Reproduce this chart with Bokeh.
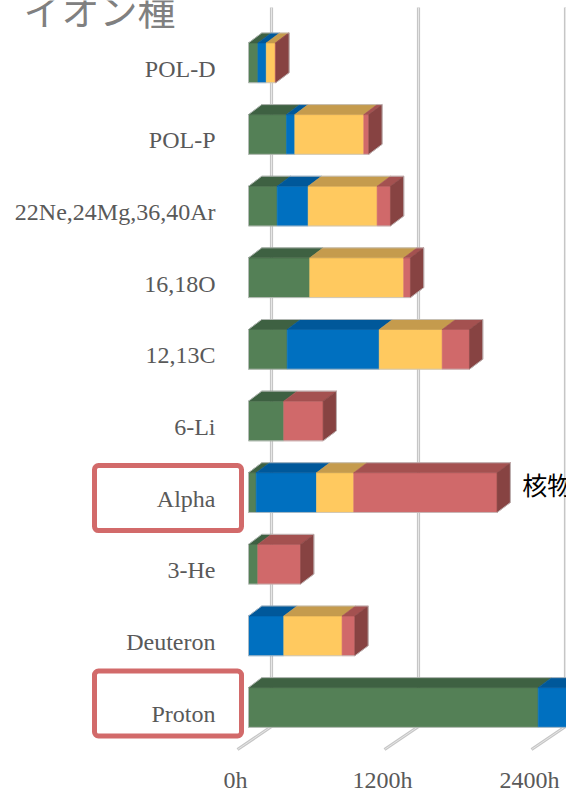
from bokeh.plotting import figure
from bokeh.models import Range1d, ColumnDataSource, BoxAnnotation
from bokeh.core.properties import value
from bokeh.embed import file_html
from bokeh.resources import INLINE

# Ion species, listed bottom to top
categories = ["Proton", "Deuteron", "3-He", "Alpha", "6-Li", "12,13C",
              "16,18O", "22Ne,24Mg,36,40Ar", "POL-P", "POL-D"]

# Beam hours per species, four stacked components
s1 = [2365, 0, 76, 63, 288, 316, 500, 234, 310, 77]      # green
s2 = [300, 288, 0, 492, 0, 751, 0, 253, 68, 68]          # blue
s3 = [0, 476, 0, 304, 0, 514, 767, 563, 563, 73]         # yellow
s4 = [0, 104, 349, 1170, 321, 223, 55, 109, 41, 5]       # red

ticks = [0, 1200, 2400]
tick_labels = ["0h", "1200h", "2400h"]
axis_title = "イオン種"
side_note = "核物理"
highlighted = ["Alpha", "Proton"]

W, H = 566, 791
HPP = 1200 / 147.0      # hours per pixel along x
CPP = 1 / 71.63         # category units per pixel along y
X0, Y0 = 248, 707       # canvas position of (0h, first category)

half = 19.85 * CPP      # half height of a bar's front face
ddx = 13.3 * HPP        # depth offset of the 3-D faces
ddy = 10.0 * CPP

front_col = ["#548056", "#0070c0", "#ffc95f", "#d0696a"]
top_col = ["#3e6142", "#00589a", "#c59b4d", "#a45150"]
side_col = ["#3a5a3d", "#004f8a", "#b08a40", "#874342"]

p = figure(width=W, height=H, output_backend="svg", toolbar_location=None,
           x_range=Range1d(-X0 * HPP, (W - X0) * HPP),
           y_range=Range1d(-(H - Y0) * CPP, Y0 * CPP),
           x_axis_location=None, y_axis_location=None, min_border=0)
p.grid.visible = False
p.outline_line_color = None
p.background_fill_color = "white"

# back-wall gridlines bending onto the floor
gx, gy = [], []
for v in ticks:
    bx = v + 23 * HPP
    gx.append([bx, bx, v - 11 * HPP])
    gy.append([(Y0 - 7) * CPP, (Y0 - 726) * CPP, (Y0 - 749) * CPP])
p.multi_line(gx, gy, line_color="#c6c6c6", line_width=3.2)
p.multi_line(gx, gy, line_color="#e6e6e6", line_width=1)

# stacked 3-D bars
fx, fy, fc = [], [], []
ox, oy = [], []
series = [s1, s2, s3, s4]
totals = []
for i, _ in enumerate(categories):
    lo, hi = i - half, i + half
    cum = 0.0
    last = None
    for k, s in enumerate(series):
        w = s[i]
        if w <= 0:
            continue
        x0, x1 = cum, cum + w
        fx.append([x0, x1, x1, x0]); fy.append([lo, lo, hi, hi]); fc.append(front_col[k])
        fx.append([x0, x1, x1 + ddx, x0 + ddx]); fy.append([hi, hi, hi + ddy, hi + ddy]); fc.append(top_col[k])
        cum = x1
        last = k
    if last is not None:
        fx.append([cum, cum + ddx, cum + ddx, cum]); fy.append([lo, lo + ddy, hi + ddy, hi]); fc.append(side_col[last])
    totals.append(cum)
    ox.append([0, 0, cum, cum + ddx, cum + ddx, ddx, 0])
    oy.append([hi, lo, lo, lo + ddy, hi + ddy, hi + ddy, hi])

src = ColumnDataSource(dict(xs=fx, ys=fy, c=fc))
p.patches("xs", "ys", source=src, fill_color="c", line_color="c", line_width=0.6)
p.multi_line(ox, oy, line_color="#c4c4c4", line_width=1, line_alpha=0.8)

# category labels
lab_x = (215 - X0) * HPP
p.text(x=[lab_x] * len(categories), y=[i - 6 * CPP for i in range(len(categories))],
       text=categories, text_align="right", text_baseline="middle",
       text_font=value("Liberation Serif"), text_font_size="24px", text_color="#595959")

# tick labels along the front edge of the floor
p.text(x=[v - 13 * HPP for v in ticks], y=[(Y0 - 779) * CPP] * len(ticks),
       text=tick_labels, text_align="center", text_baseline="middle",
       text_font=value("Liberation Serif"), text_font_size="24px", text_color="#595959")

# axis title
p.text(x=[(23 - X0) * HPP], y=[(Y0 - 8) * CPP], text=[axis_title],
       text_align="left", text_baseline="middle",
       text_font=value("Noto Sans CJK JP"), text_font_size="38px", text_color="#808080")

# note next to the Alpha bar
ia = categories.index("Alpha")
p.text(x=[totals[ia] + ddx + 12 * HPP], y=[ia + 9 * CPP], text=[side_note],
       text_align="left", text_baseline="middle",
       text_font=value("Noto Sans CJK JP"), text_font_size="25px", text_color="#000000")

# outlined labels
box_shift = {"Alpha": 5.5, "Proton": -4.0}
for name in highlighted:
    i = categories.index(name)
    yc = i - box_shift[name] * CPP
    p.add_layout(BoxAnnotation(left=(94 - X0) * HPP, right=(241 - X0) * HPP,
                               bottom=yc - 32.5 * CPP, top=yc + 32.5 * CPP,
                               fill_alpha=0, line_color="#d26a6a", line_alpha=1.0,
                               line_width=5, border_radius=4))

open("out.html", "w").write(file_html(p, INLINE))
